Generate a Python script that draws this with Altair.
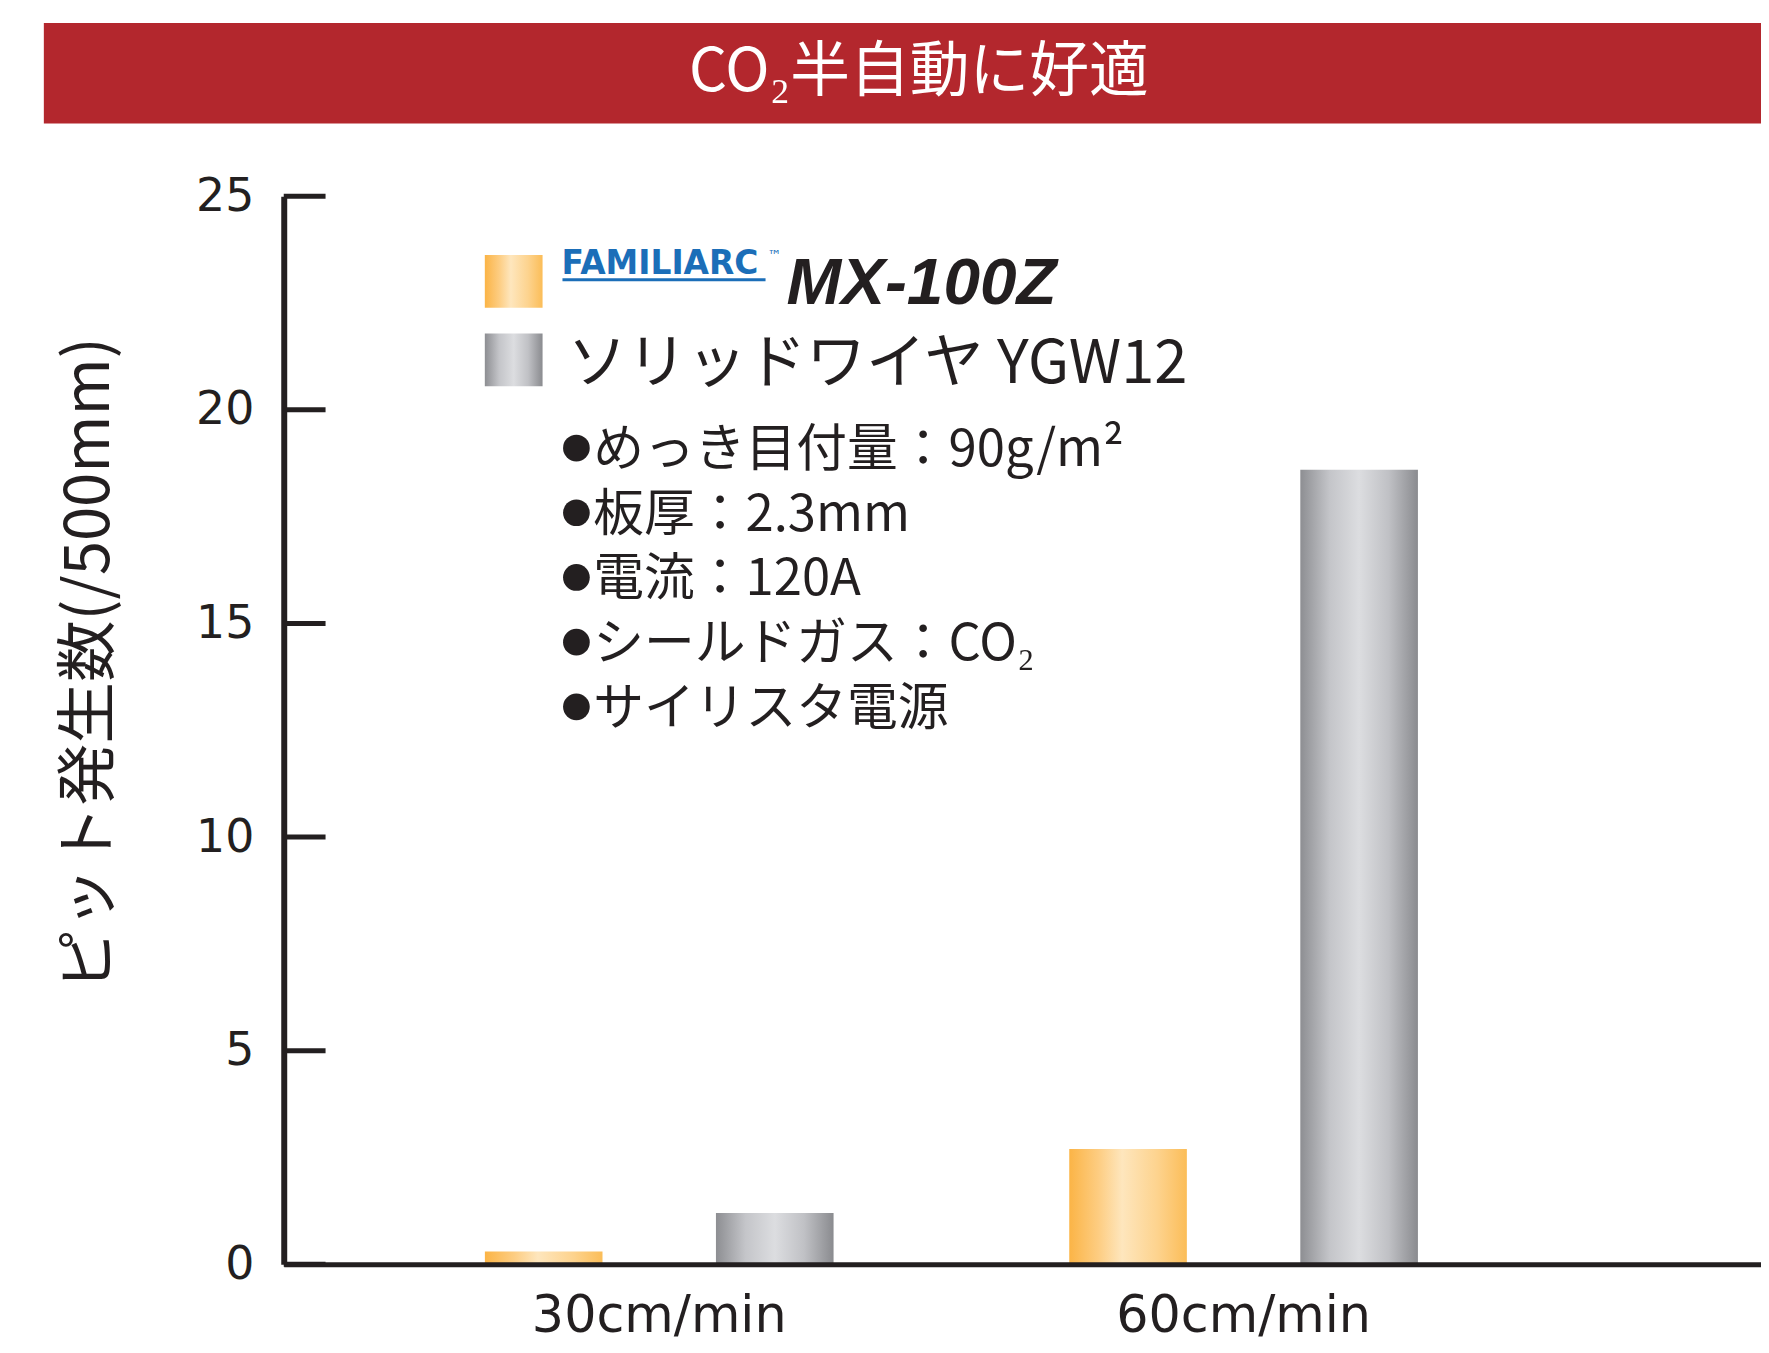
import altair as alt
import pandas as pd

# ---------------- data ----------------
categories = ["30cm/min", "60cm/min"]
series = ["MX-100Z", "YGW12"]
mx_values = [0.3, 2.7]
ygw_values = [1.2, 18.6]
y_ticks = [0, 5, 10, 15, 20, 25]

title_text = "CO₂半自動に好適"
y_title = "ピット発生数(/500mm)"
brand_text = "FAMILIARC"
tm_text = "™"
product_text = "MX-100Z"
solid_text = "ソリッドワイヤ YGW12"
notes = ["めっき目付量：90g/m²", "板厚：2.3mm", "電流：120A", "シールドガス：CO₂", "サイリスタ電源"]

# ---------------- styles ----------------
FONT = "Noto Sans CJK JP"
NUMFONT = "DejaVu Sans"
INK = "#231F20"
RED = "#B3272D"
BLUE = "#1B6EB8"

orange_grad = {
    "gradient": "linear", "x1": 0, "y1": 0, "x2": 1, "y2": 0,
    "stops": [
        {"offset": 0, "color": "#FBB446"},
        {"offset": 0.25, "color": "#FDCD82"},
        {"offset": 0.45, "color": "#FEE6BD"},
        {"offset": 0.75, "color": "#FDD38E"},
        {"offset": 1, "color": "#FBBD58"},
    ],
}
gray_grad = {
    "gradient": "linear", "x1": 0, "y1": 0, "x2": 1, "y2": 0,
    "stops": [
        {"offset": 0, "color": "#8D8E92"},
        {"offset": 0.25, "color": "#C4C5C9"},
        {"offset": 0.5, "color": "#DCDDE0"},
        {"offset": 0.75, "color": "#C0C1C5"},
        {"offset": 1, "color": "#8A8B8F"},
    ],
}

df = pd.DataFrame({
    "speed": categories * 2,
    "series": [series[0]] * len(categories) + [series[1]] * len(categories),
    "value": mx_values + ygw_values,
})
tick_df = pd.DataFrame({"value": y_ticks})
note_df = pd.DataFrame({"line": list(range(len(notes))), "note": notes})
one = pd.DataFrame({"k": [0]})

x_enc = alt.X(
    "speed:N",
    sort=categories,
    scale=alt.Scale(domain=categories, paddingInner=0, paddingOuter=0.264, align=0.27),
    axis=alt.Axis(title=None, labelAngle=0, labelFontSize=51, labelFont=NUMFONT,
                  labelColor=INK, labelPadding=27, labelLimit=2000, ticks=False,
                  domainWidth=5, domainColor=INK, zindex=1),
)
xoff = alt.XOffset("series:N", scale=alt.Scale(domain=series, paddingInner=0.491, paddingOuter=0.51))
y_axis = alt.Axis(title=None, values=y_ticks, ticks=False, labelFontSize=46, labelFont=NUMFONT,
                  labelColor=INK, labelPadding=30, domainWidth=6, domainColor=INK,
                  grid=False, zindex=1)
y_enc = alt.Y("value:Q", scale=alt.Scale(domain=[0, 25], nice=False, zero=True), axis=y_axis)

bars_mx = alt.Chart(df).transform_filter(alt.datum.series == series[0]).mark_bar(
    fill=orange_grad).encode(x=x_enc, xOffset=xoff, y=y_enc)
bars_ygw = alt.Chart(df).transform_filter(alt.datum.series == series[1]).mark_bar(
    fill=gray_grad).encode(x=x_enc, xOffset=xoff, y=y_enc)

ticks = alt.Chart(tick_df).mark_rule(color=INK, strokeWidth=5).encode(
    y=y_enc, x=alt.value(0), x2=alt.value(42))

red_bar = alt.Chart(one).mark_rect(color=RED).encode(
    x=alt.value(-241), x2=alt.value(1484), y=alt.value(-174), y2=alt.value(-73))
title = alt.Chart(one).mark_text(font=FONT, fontSize=60, color="white", align="center",
                                 baseline="middle").encode(
    x=alt.value(638), y=alt.value(-124), text=alt.value(title_text))

ytitle = alt.Chart(one).mark_text(font=FONT, fontSize=62, color=INK, align="center",
                                  baseline="middle", angle=270).encode(
    x=alt.value(-195), y=alt.value(470), text=alt.value(y_title))

sw1 = alt.Chart(one).mark_rect(fill=orange_grad).encode(
    x=alt.value(202), x2=alt.value(260), y=alt.value(59), y2=alt.value(112))
sw2 = alt.Chart(one).mark_rect(fill=gray_grad).encode(
    x=alt.value(202), x2=alt.value(260), y=alt.value(138), y2=alt.value(191))

brand = alt.Chart(one).mark_text(font="DejaVu Sans", fontWeight="bold", fontSize=33, color=BLUE,
                                 align="left", baseline="alphabetic").encode(
    x=alt.value(279), y=alt.value(78), text=alt.value(brand_text))
brand_ul = alt.Chart(one).mark_rule(color=BLUE, strokeWidth=3).encode(
    x=alt.value(280), x2=alt.value(484), y=alt.value(84))
tm = alt.Chart(one).mark_text(font="DejaVu Sans", fontSize=14, color=BLUE, align="left",
                              baseline="alphabetic").encode(
    x=alt.value(486), y=alt.value(64), text=alt.value(tm_text))
product = alt.Chart(one).mark_text(font="Liberation Sans", fontWeight="bold",
                                   fontStyle="italic", fontSize=66, color=INK, align="left",
                                   baseline="alphabetic").encode(
    x=alt.value(505), y=alt.value(108), text=alt.value(product_text))
solid = alt.Chart(one).mark_text(font=FONT, fontSize=60, color=INK, align="left",
                                 baseline="alphabetic").encode(
    x=alt.value(285), y=alt.value(188), text=alt.value(solid_text))

note_base = alt.Chart(note_df).transform_calculate(
    ty="271 + 65 * datum.line", by="253 + 65 * datum.line")
bullets = note_base.mark_circle(color=INK, opacity=1, size=720).encode(
    x=alt.value(294), y=alt.Y("by:Q", scale=None))
note_txt = note_base.mark_text(font=FONT, fontSize=51, color=INK, align="left",
                               baseline="alphabetic").encode(
    x=alt.value(311), y=alt.Y("ty:Q", scale=None), text="note:N")

chart = alt.layer(
    red_bar, title, bars_mx, bars_ygw, ticks, ytitle, sw1, sw2, brand, brand_ul, tm,
    product, solid, bullets, note_txt,
).properties(
    width=1484, height=1073,
    autosize=alt.AutoSizeParams(type="none"),
    padding={"left": 277, "top": 186, "right": 0, "bottom": 82},
    background="white",
).configure_view(strokeWidth=0)

chart.save("out.html", embed_options={"renderer": "svg", "actions": False})
